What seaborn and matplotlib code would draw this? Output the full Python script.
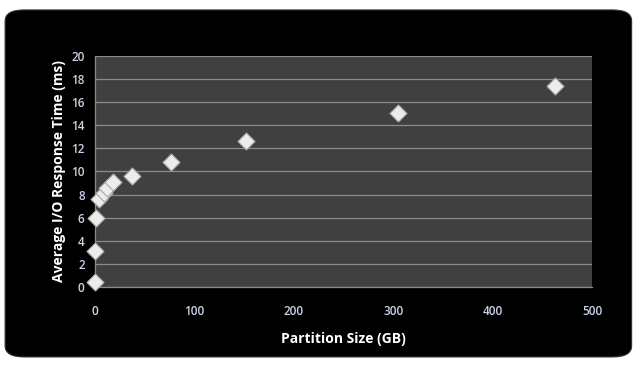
import pandas as pd
import matplotlib
matplotlib.use("Agg")
import matplotlib.pyplot as plt
import seaborn as sns
from matplotlib.patches import FancyBboxPatch

# data
partition_gb = [0, 0, 1, 3.5, 8.5, 12.5, 18.5, 37, 76, 152, 305, 463]
response_ms = [0.45, 3.15, 5.95, 7.6, 8.1, 8.55, 9.05, 9.65, 10.8, 12.6, 15.1, 17.4]
x_ticks = [0, 100, 200, 300, 400, 500]
y_ticks = [0, 2, 4, 6, 8, 10, 12, 14, 16, 18, 20]

df = pd.DataFrame({"Partition Size (GB)": partition_gb,
                   "Average I/O Response Time (ms)": response_ms})

sns.set_style("dark")
plt.rcParams["font.family"] = ["Open Sans", "DejaVu Sans"]

fig = plt.figure(figsize=(6.38, 3.68), dpi=100)
fig.patch.set_facecolor("white")

# black rounded panel behind the chart
panel = FancyBboxPatch((0.008, 0.03), 0.982, 0.943,
                       boxstyle="round,pad=0,rounding_size=0.03",
                       transform=fig.transFigure, facecolor="black",
                       edgecolor="#333333", linewidth=0.8, zorder=-5)
fig.patches.append(panel)

ax = fig.add_axes([0.149, 0.22, 0.779, 0.628])
ax.set_zorder(2)
ax.set_facecolor("#404040")

sns.scatterplot(data=df, x="Partition Size (GB)", y="Average I/O Response Time (ms)",
                marker="D", s=75, color="#ececec", edgecolor="#a8a8a8",
                linewidth=0.8, ax=ax, zorder=3, clip_on=False)

ax.set_xlim(0, 500)
ax.set_ylim(0, 20)
ax.set_xticks(x_ticks)
ax.set_yticks(y_ticks)
ax.grid(axis="y", color="#8a8a8a", linewidth=0.9)
ax.grid(axis="x", visible=False)

for side in ["top", "right"]:
    ax.spines[side].set_visible(False)
for side in ["left", "bottom"]:
    ax.spines[side].set_color("#8a8a8a")
    ax.spines[side].set_linewidth(0.9)

ax.tick_params(axis="both", colors="#8a8a8a", length=4, width=0.9,
               labelcolor="#c9d3e6", labelsize=8.5, direction="out")
ax.tick_params(axis="x", pad=9)
for lbl in ax.get_xticklabels() + ax.get_yticklabels():
    lbl.set_fontweight("semibold")

ax.set_xlabel("Partition Size (GB)", color="white", fontsize=10,
              fontweight="bold", labelpad=10)
ax.set_ylabel("Average I/O Response Time (ms)", color="white", fontsize=10,
              fontweight="bold", labelpad=4)

fig.savefig("out.png", dpi=100, facecolor="white")
